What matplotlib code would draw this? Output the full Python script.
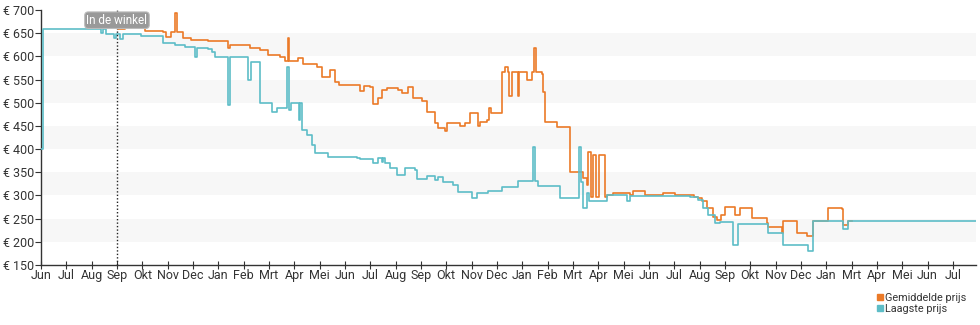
import matplotlib.pyplot as plt
import matplotlib as mpl
from matplotlib.lines import Line2D

mpl.rcParams['font.family'] = ['Roboto', 'DejaVu Sans']

# x in month-tick units (0 = first "Jun" tick), prices in euro
months = ['Jun', 'Jul', 'Aug', 'Sep', 'Okt', 'Nov', 'Dec', 'Jan', 'Feb', 'Mrt', 'Apr', 'Mei',
          'Jun', 'Jul', 'Aug', 'Sep', 'Okt', 'Nov', 'Dec', 'Jan', 'Feb', 'Mrt', 'Apr', 'Mei',
          'Jun', 'Jul', 'Aug', 'Sep', 'Okt', 'Nov', 'Dec', 'Jan', 'Mrt', 'Apr', 'Mei', 'Jun', 'Jul']

low_x = [0, 0.08, 2.37, 2.45, 2.57, 2.88, 2.96, 3.12, 3.24, 3.95, 4.82, 5.3, 5.7, 6.08, 6.16,
         6.59, 6.75, 6.87, 7.38, 7.46, 8.17, 8.29, 8.65, 9.12, 9.32, 9.71, 9.79, 9.87, 10.19,
         10.24, 10.30, 10.50, 10.70, 10.82, 11.33, 12.48, 12.59, 13.11, 13.30, 13.45, 13.52,
         13.58, 13.78, 14.05, 14.37, 14.77, 14.84, 15.24, 15.55, 15.67, 15.87, 16.27, 16.46,
         17.02, 17.21, 17.65, 18.20, 18.83, 19.42, 19.50, 19.62, 20.49, 21.24, 21.32, 21.40,
         21.56, 21.64, 22.35, 23.13, 23.25, 25.62, 25.94, 26.14, 26.33, 26.61, 26.81, 27.32,
         27.52, 28.70, 29.29, 30.28, 30.48, 31.66, 31.86, 36.91]
low_y = [400, 658, 650, 658, 648, 639, 648, 637, 649, 645, 628, 624, 621, 599, 619,
         615, 610, 598, 495, 598, 549, 587, 499, 479, 488, 578, 484, 499, 463,
         499, 441, 430, 409, 391, 384, 381, 379, 369, 380, 372, 380,
         369, 360, 344, 359, 355, 335, 343, 333, 340, 330, 323, 308,
         294, 306, 310, 319, 332, 405, 332, 320, 294, 405, 330, 272,
         305, 288, 301, 288, 298, 297, 290, 272, 258, 240, 243, 193,
         238, 218, 193, 181, 245, 227, 245, 245]

avg_x = [2.53, 2.73, 2.92, 3.04, 3.32, 3.83, 4.10, 4.82, 4.94, 5.13, 5.29, 5.37, 5.61, 5.92,
         6.59, 7.38, 7.46, 8.25, 8.65, 8.96, 9.44, 9.63, 9.75, 9.80, 10.15, 10.34, 10.90,
         11.09, 11.41, 11.61, 11.75, 12.59, 12.75, 12.99, 13.11, 13.30, 13.46, 13.66, 14.09,
         14.25, 14.49, 14.69, 15.04, 15.24, 15.55, 15.67, 15.95, 16.03, 16.54, 16.74, 16.94,
         17.25, 17.33, 17.61, 17.69, 17.77, 18.20, 18.32, 18.44, 18.48, 18.60, 18.83, 18.87,
         19.19, 19.39, 19.46, 19.54, 19.78, 19.82, 19.90, 20.37, 20.89, 21.40, 21.56, 21.60,
         21.72, 21.80, 21.90, 22.04, 22.25, 22.35, 22.59, 23.25, 23.37, 23.84, 24.56, 25.03,
         25.42, 25.78, 25.94, 26.10, 26.30, 26.53, 26.69, 26.85, 27.01, 27.40, 27.60, 28.07,
         28.66, 28.70, 29.25, 29.29, 29.85, 30.24, 30.48, 31.07, 31.62, 31.66, 31.86, 32.0]
avg_y = [664, 671, 664, 660, 662, 664, 655, 653, 642, 652, 693, 652, 639, 635,
         633, 619, 625, 617, 614, 603, 599, 589, 639, 589, 596, 583, 578,
         556, 571, 545, 538, 525, 537, 535, 497, 510, 527, 532, 527,
         520, 535, 510, 504, 481, 456, 445, 439, 456, 450, 456, 477,
         449, 459, 463, 488, 478, 567, 576, 567, 515, 567, 515, 567,
         549, 567, 617, 567, 563, 524, 458, 448, 351, 337, 323, 394,
         297, 387, 297, 388, 297, 301, 305, 300, 310, 301, 306, 302,
         301, 297, 294, 287, 272, 254, 247, 258, 276, 258, 274, 252,
         241, 231, 220, 245, 218, 212, 245, 272, 270, 236, 245, 245]

store_x = 3

orange = '#eb7a28'
teal = '#5dbdc7'

fig = plt.figure(figsize=(9.8, 3.25), dpi=100)
ax = fig.add_axes([41 / 980, 1 - 265 / 325, 935 / 980, 255 / 325])

for lo in range(200, 700, 100):
    ax.axhspan(lo, lo + 50, color='#f7f7f7', lw=0, zorder=0)

ax.plot(avg_x, avg_y, drawstyle='steps-post', color=orange, lw=1.2, zorder=3)
ax.plot(low_x, low_y, drawstyle='steps-post', color=teal, lw=1.2, zorder=4)

ax.axvline(store_x, color='#222222', ls=(0, (1, 1.5)), lw=1, zorder=5)
ax.text(store_x, 678, 'In de winkel', ha='center', va='center', color='white', fontsize=8.5,
        bbox=dict(boxstyle='round,pad=0.15,rounding_size=0.3', fc='#999999', ec='#bbbbbb', lw=0.8),
        zorder=6)

ax.set_xlim(0, 36.91)
ax.set_ylim(150, 700)
ax.set_xticks(range(len(months)))
ax.set_xticklabels(months)
yt = list(range(150, 701, 50))
ax.set_yticks(yt)
ax.set_yticklabels(['€ %d' % v for v in yt])

for s in ['top', 'right']:
    ax.spines[s].set_visible(False)
for s in ['left', 'bottom']:
    ax.spines[s].set_color('#333333')
    ax.spines[s].set_linewidth(1)
ax.tick_params(axis='y', direction='out', length=4, pad=1, labelsize=9, colors='#333333')
ax.tick_params(axis='x', direction='inout', length=6, pad=0, labelsize=9, colors='#333333')

handles = [Line2D([], [], marker='s', ls='', color=orange, markersize=5),
           Line2D([], [], marker='s', ls='', color=teal, markersize=5)]
fig.legend(handles, ['Gemiddelde prijs', 'Laagste prijs'], loc='lower left',
           bbox_to_anchor=(870 / 980, 0.01), frameon=False, fontsize=7.8, handlelength=0.5,
           handletextpad=0.2, labelspacing=0.1, borderpad=0.2, labelcolor='#333333')

fig.savefig('out.png', dpi=100)
